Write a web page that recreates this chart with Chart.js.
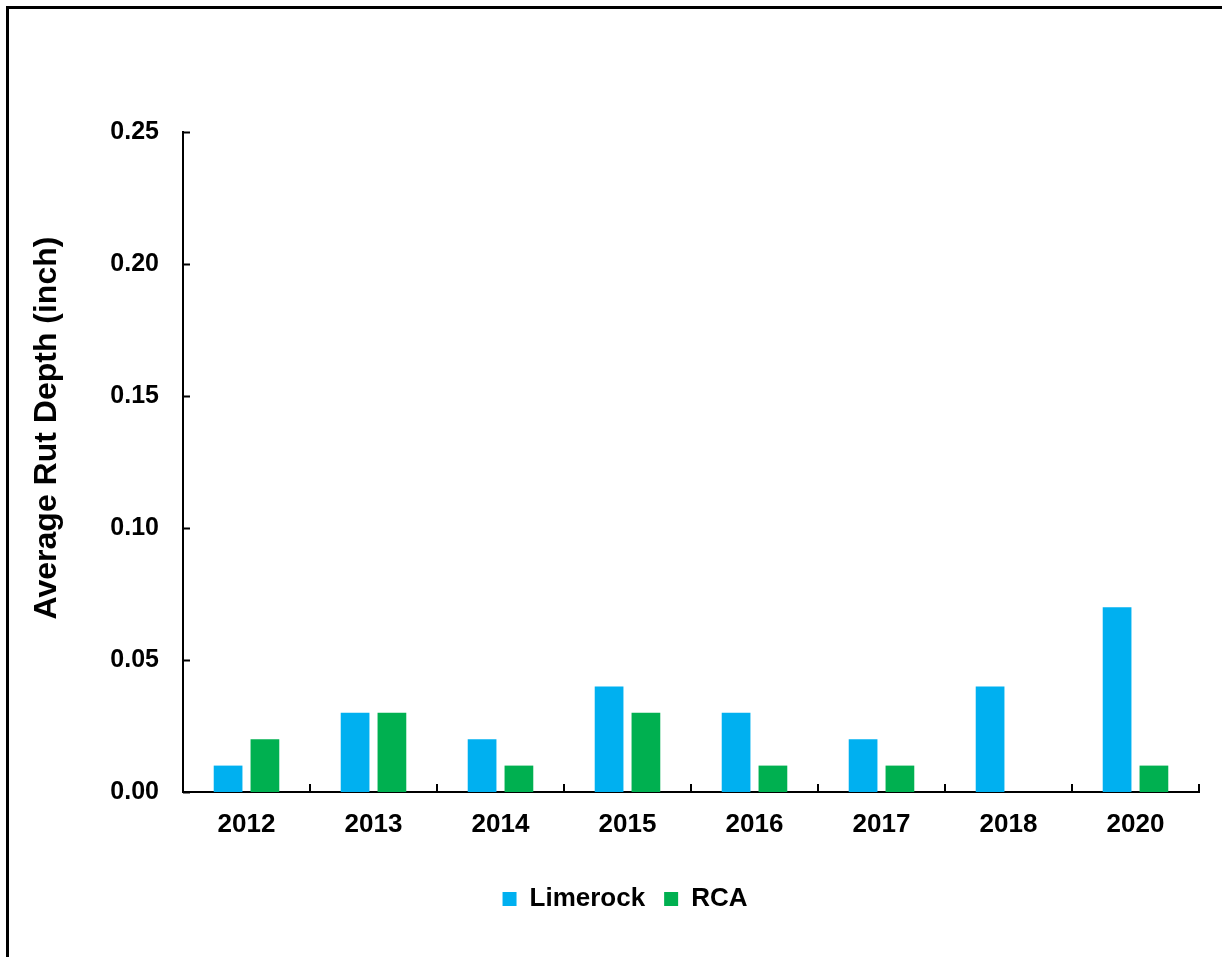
<!DOCTYPE html>
<html>
<head>
<meta charset="utf-8">
<script src="https://cdn.jsdelivr.net/npm/chart.js@4/dist/chart.umd.min.js"></script>
<style>
  html, body { margin: 0; padding: 0; background: #fff; }
  canvas { display: block; }
</style>
</head>
<body>
<canvas id="rutChart" width="1222" height="957"></canvas>
<script>
const years = ["2012", "2013", "2014", "2015", "2016", "2017", "2018", "2020"];
const limerock = [0.01, 0.03, 0.02, 0.04, 0.03, 0.02, 0.04, 0.07];
const rca = [0.02, 0.03, 0.01, 0.03, 0.01, 0.01, null, 0.01];
const yTicks = [0, 0.05, 0.1, 0.15, 0.2, 0.25];
const yTitle = "Average Rut Depth (inch)";

const FONT = "'Liberation Sans', Arial, sans-serif";

// frame around the figure, the y title and inward tick marks on both axes
const framePlugin = {
  id: "frame",
  beforeDraw(chart) {
    const ctx = chart.ctx;
    ctx.save();
    ctx.fillStyle = "#000";
    ctx.fillRect(6, 6, 3, chart.height);
    ctx.fillRect(6, 6, chart.width, 3);
    ctx.restore();
  },
  afterDraw(chart) {
    const ctx = chart.ctx;
    const area = chart.chartArea;
    const xs = chart.scales.x;
    const ys = chart.scales.y;
    ctx.save();
    ctx.strokeStyle = "#000";
    ctx.lineWidth = 2;
    ctx.beginPath();
    yTicks.forEach(function (v) {
      const y = Math.round(ys.getPixelForValue(v)) + 0.5;
      ctx.moveTo(area.left, y);
      ctx.lineTo(area.left + 7, y);
    });
    const half = (xs.getPixelForValue(1) - xs.getPixelForValue(0)) / 2;
    for (let i = 0; i <= years.length; i++) {
      const x = Math.round(xs.getPixelForValue(i) - half);
      ctx.moveTo(x, area.bottom);
      ctx.lineTo(x, area.bottom - 8);
    }
    ctx.stroke();

    ctx.translate(47, 428);
    ctx.rotate(-Math.PI / 2);
    ctx.fillStyle = "#000";
    ctx.font = "bold 32px " + FONT;
    ctx.textAlign = "center";
    ctx.textBaseline = "middle";
    ctx.fillText(yTitle, 0, 0);
    ctx.restore();
  }
};

new Chart(document.getElementById("rutChart"), {
  type: "bar",
  data: {
    labels: years,
    datasets: [
      {
        label: "Limerock",
        data: limerock,
        backgroundColor: "#00B0F0",
        barPercentage: 0.78,
        categoryPercentage: 0.58
      },
      {
        label: "RCA",
        data: rca,
        backgroundColor: "#00B050",
        barPercentage: 0.78,
        categoryPercentage: 0.58
      }
    ]
  },
  options: {
    responsive: false,
    animation: false,
    layout: {
      padding: { left: 51, right: 23, top: 132, bottom: 35 }
    },
    plugins: {
      tooltip: { enabled: false },
      legend: {
        position: "bottom",
        labels: {
          boxWidth: 14,
          boxHeight: 14,
          padding: 19,
          color: "#000",
          font: { family: FONT, size: 26, weight: "bold" }
        }
      }
    },
    scales: {
      x: {
        grid: { display: false },
        border: { display: true, color: "#000", width: 2 },
        ticks: {
          color: "#000",
          padding: 9,
          maxRotation: 0,
          font: { family: FONT, size: 26, weight: "bold" }
        },
        afterFit(scale) { scale.height = 75; }
      },
      y: {
        min: 0,
        max: 0.25,
        afterBuildTicks(scale) {
          scale.ticks = yTicks.map(function (v) { return { value: v }; });
        },
        grid: { display: false },
        border: { display: true, color: "#000", width: 2 },
        ticks: {
          color: "#000",
          padding: 16,
          font: { family: FONT, size: 25, weight: "bold" },
          callback: function (v) { return Number(v).toFixed(2); }
        },
        afterFit(scale) { scale.width = 132; }
      }
    }
  },
  plugins: [framePlugin]
});
</script>
</body>
</html>
